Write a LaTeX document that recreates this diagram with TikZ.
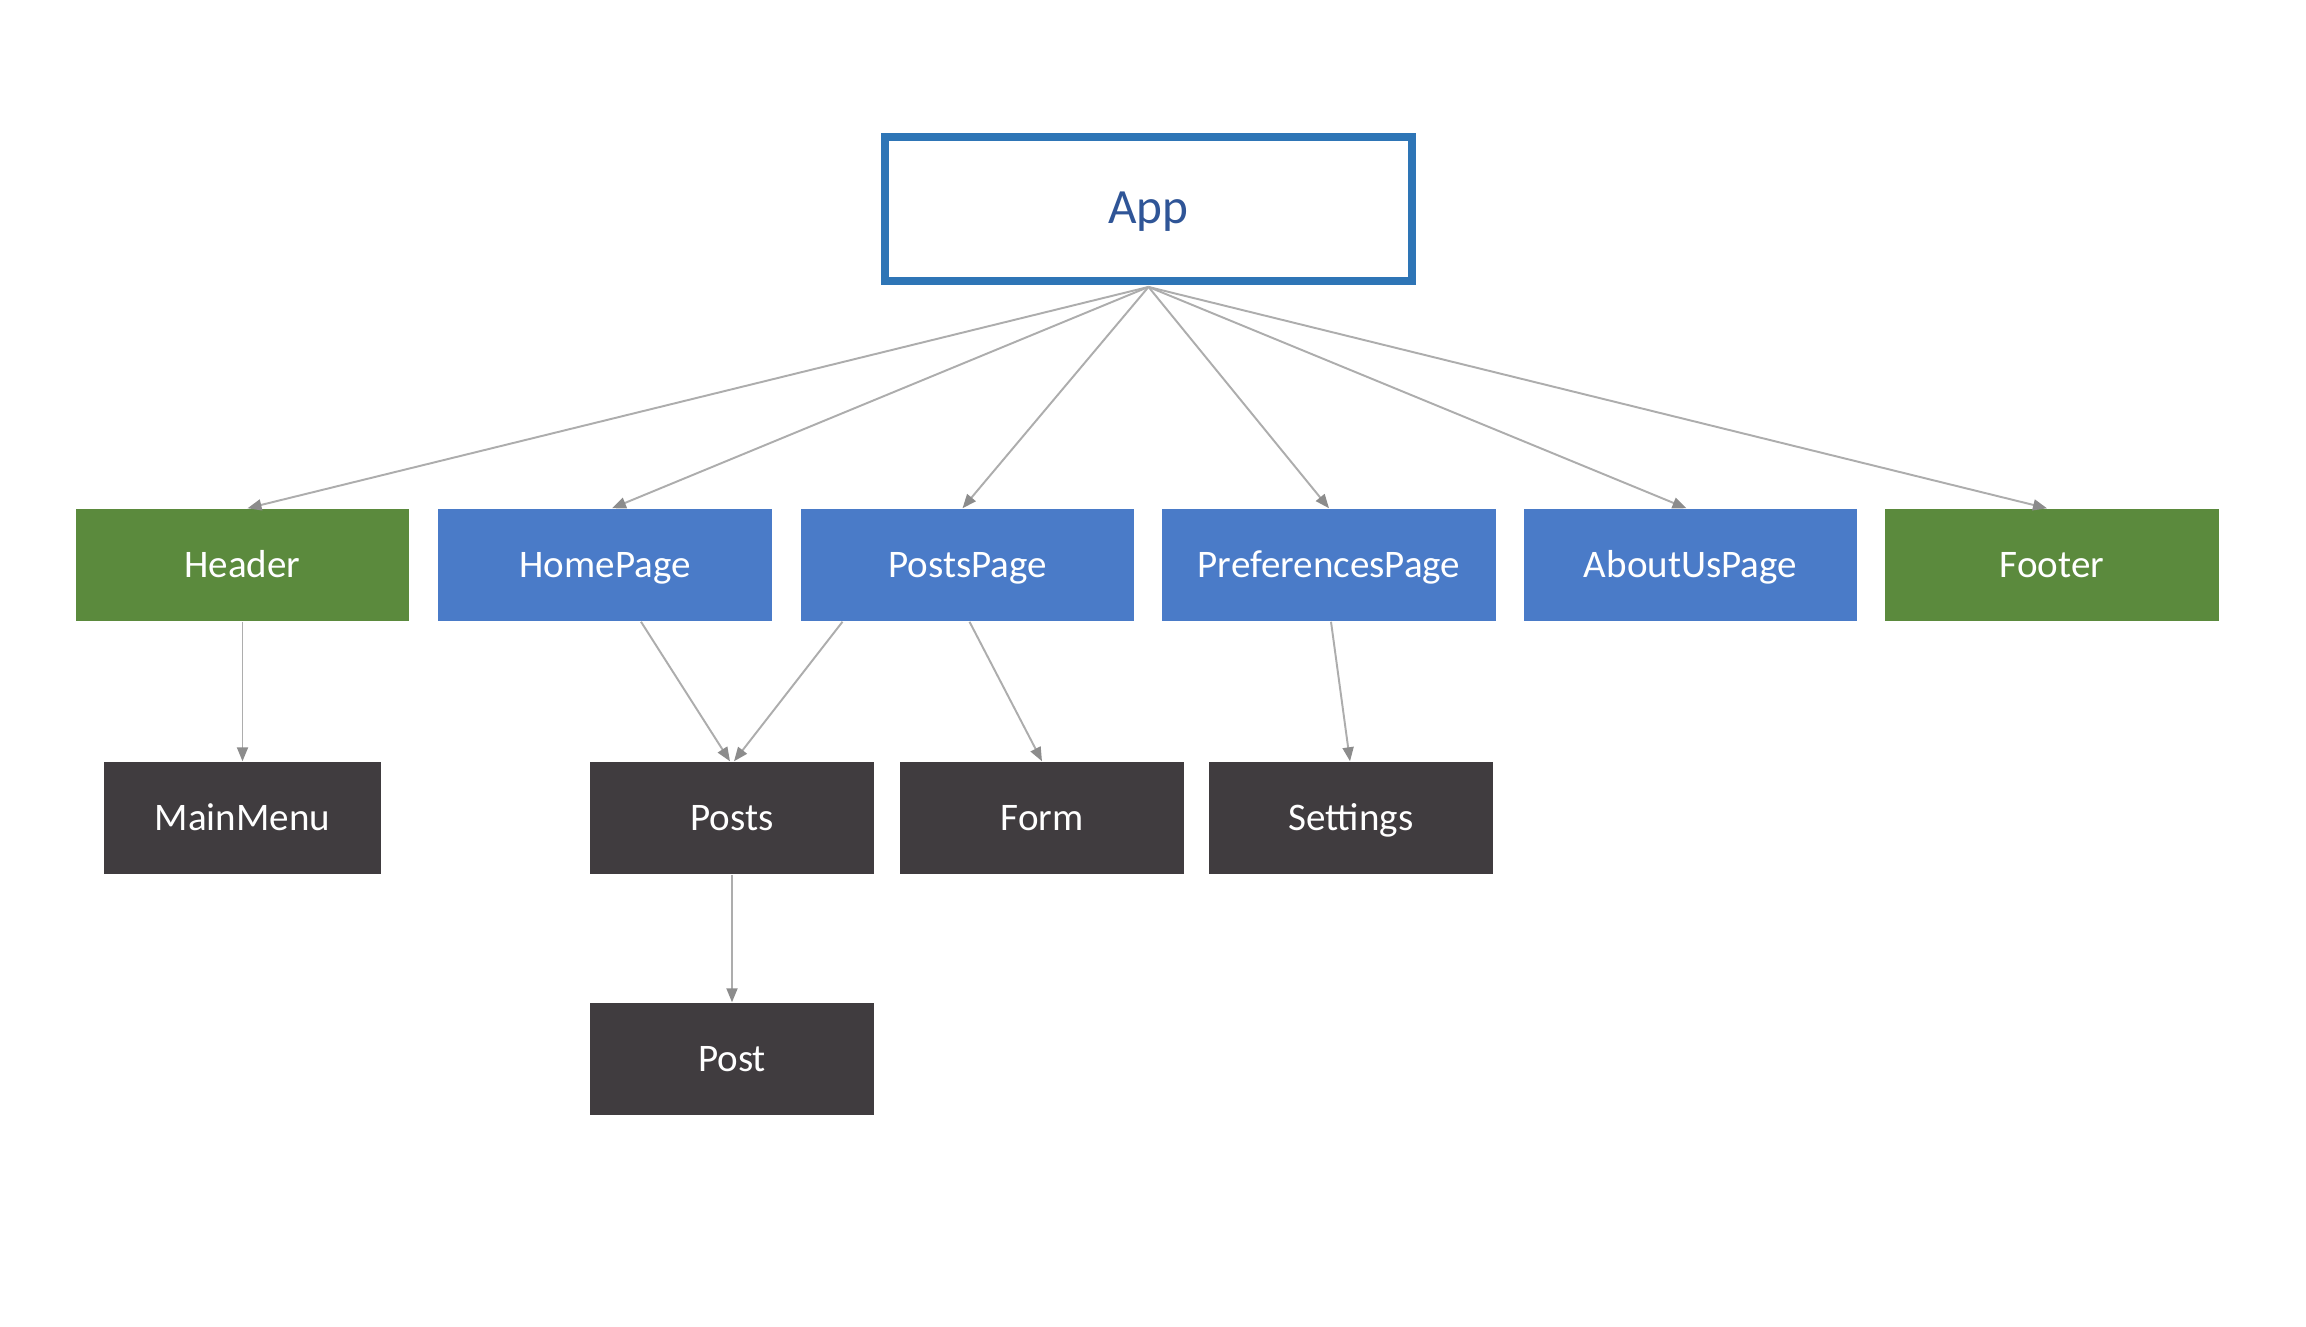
\documentclass[tikz,border=0pt]{standalone}
\usepackage{fontspec}
\setmainfont{Carlito}
\usetikzlibrary{arrows.meta,calc}
\definecolor{appblue}{HTML}{2E75B6}
\definecolor{apptext}{HTML}{2F5597}
\definecolor{pgblue}{HTML}{4A7BC8}
\definecolor{hdgreen}{HTML}{5B8A3D}
\definecolor{darkbox}{HTML}{403C3F}
\definecolor{linegray}{HTML}{ADADAD}
\definecolor{tipgray}{HTML}{8C8C8C}
\begin{document}
\begin{tikzpicture}[x=0.01cm,y=-0.01cm,
  box/.style={rectangle,inner sep=0pt,text=white,font=\fontsize{11.1}{13}\selectfont,text height=0.72em,text depth=0pt},
  greenbox/.style={box,fill=hdgreen,minimum width=3.33cm,minimum height=1.12cm},
  bluebox/.style={box,fill=pgblue,minimum width=3.33cm,minimum height=1.12cm},
  darkbx/.style={box,fill=darkbox,minimum width=2.84cm,minimum height=1.12cm},
  conn/.style={draw=linegray,line width=0.55pt,-{Triangle[length=0.14cm,width=0.11cm,color=tipgray]}}]
\useasboundingbox (0,0) rectangle (2306,1326);
\fill[white] (0,0) rectangle (2306,1326);
\node[draw=appblue,line width=2.2pt,minimum width=5.27cm,minimum height=1.44cm,inner sep=0pt,text=apptext,font=\fontsize{14}{17}\selectfont,text height=0.82em,text depth=0pt] (app) at (1148.5,209) {App};
\node[greenbox] (header) at (242.5,565) {Header};
\node[bluebox] (home) at (605,565) {HomePage};
\node[bluebox] (postspage) at (967.5,565) {PostsPage};
\node[bluebox] (prefs) at (1329,565) {PreferencesPage};
\node[bluebox] (about) at (1690.5,565) {AboutUsPage};
\node[greenbox] (footer) at (2052,565) {Footer};
\node[darkbx,minimum width=2.77cm] (mainmenu) at (242.5,818) {MainMenu};
\node[darkbx] (posts) at (732,818) {Posts};
\node[darkbx] (form) at (1042,818) {Form};
\node[darkbx] (settings) at (1351,818) {Settings};
\node[darkbx] (post) at (732,1059) {Post};
\coordinate (appfoot) at ($(app.south)+(0,2)$);
\foreach \n/\dx in {header/5,home/7,postspage/-5,prefs/0,about/-4,footer/-5}
  \draw[conn] (appfoot) -- ([xshift=\dx*0.01cm]\n.north);
\draw[conn] (header.south) -- (mainmenu.north);
\draw[conn] ([xshift=36*0.01cm]home.south) -- ([xshift=-2*0.01cm]posts.north);
\draw[conn] ([xshift=-125*0.01cm]postspage.south) -- ([xshift=2*0.01cm]posts.north);
\draw[conn] ([xshift=2*0.01cm]postspage.south) -- (form.north);
\draw[conn] ([xshift=2*0.01cm]prefs.south) -- ([xshift=-1*0.01cm]settings.north);
\draw[conn] (posts.south) -- (post.north);
\end{tikzpicture}
\end{document}
